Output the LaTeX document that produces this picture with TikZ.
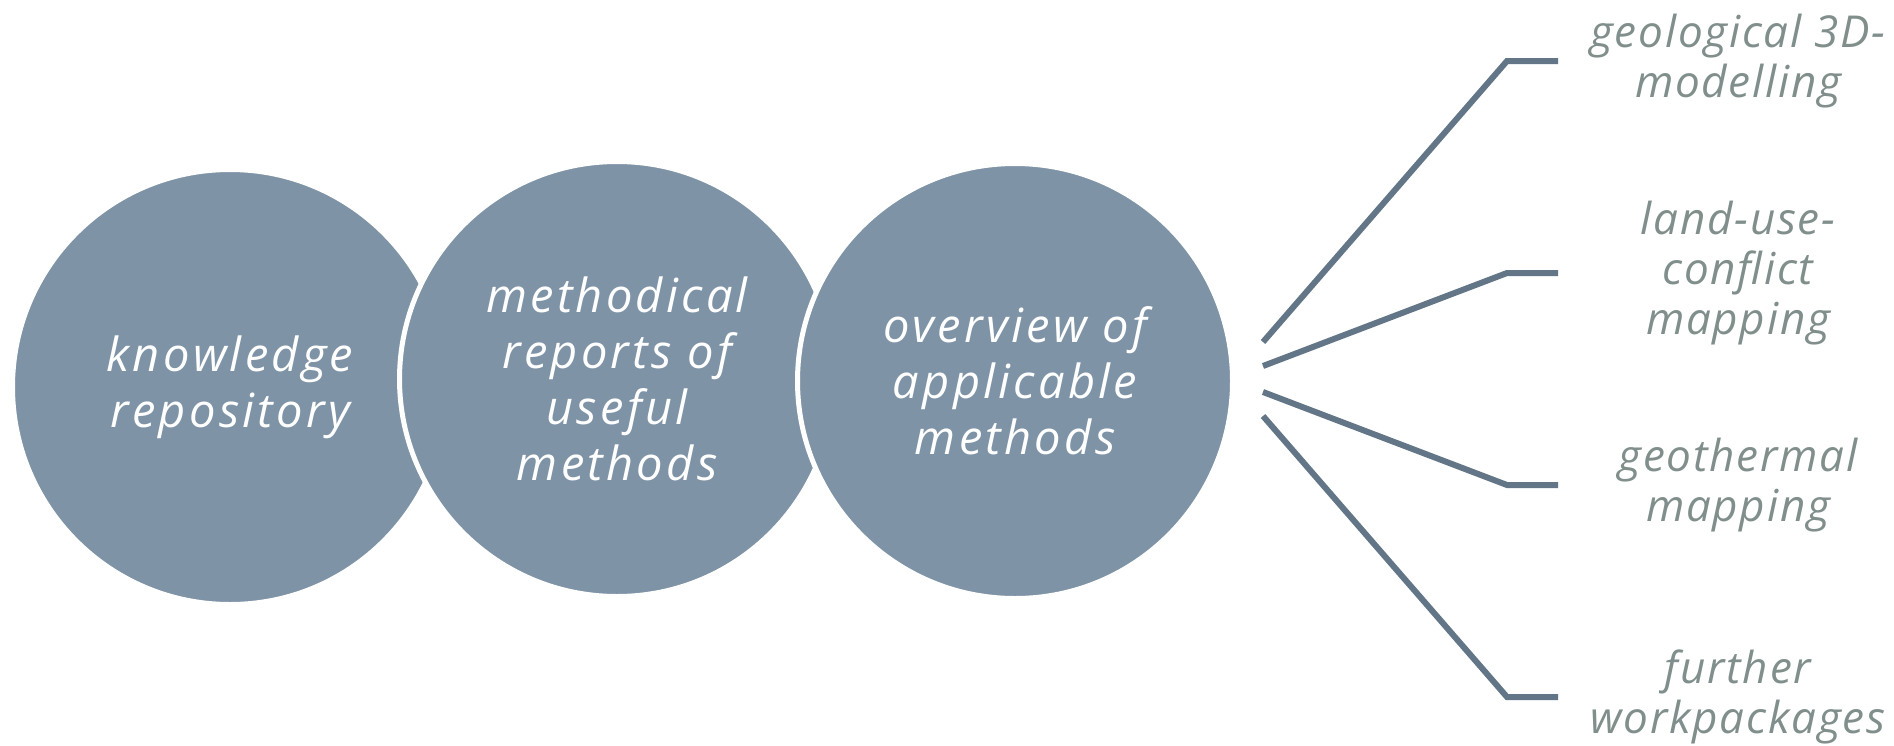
\documentclass[tikz,border=0pt]{standalone}
\usepackage{fontspec}
\setmainfont{Open Sans}
\newfontfamily\bubblefont[LetterSpace=7]{Open Sans}
\newfontfamily\branchfont[LetterSpace=4]{Open Sans}
\definecolor{bubblefill}{RGB}{126,147,166}
\definecolor{linecolor}{RGB}{99,118,135}
\definecolor{labelgray}{RGB}{128,142,140}
\begin{document}
\begin{tikzpicture}[x=1pt,y=-1pt,
  bubble/.style={circle, fill=bubblefill, draw=white, line width=5pt, minimum size=435pt, inner sep=0pt},
  bubbletext/.style={text=white, font=\bubblefont\fontsize{47}{56}\selectfont\itshape, align=center, inner sep=0pt},
  labeltext/.style={text=labelgray, font=\branchfont\fontsize{44}{50}\selectfont\itshape, align=center, inner sep=0pt},
  branch/.style={draw=linecolor, line width=6pt}]
\useasboundingbox (0,0) rectangle (1894,745);
\node[bubble] (c1) at (230,387) {};
\node[bubble] (c2) at (617,379) {};
\node[bubble] (c3) at (1015,381) {};
\node[bubbletext] (t1) at (c1) {knowledge\\repository};
\node[bubbletext] (t2) at (c2) {methodical\\reports of\\useful\\methods};
\node[bubbletext] (t3) at (c3) {overview of\\applicable\\methods};
\coordinate (s1) at (1263,342);
\coordinate (s2) at (1263,366);
\coordinate (s3) at (1263,392);
\coordinate (s4) at (1263,416);
\coordinate (e1) at (1507,61);
\coordinate (e2) at (1507,273);
\coordinate (e3) at (1507,485);
\coordinate (e4) at (1507,697);
\coordinate (h1) at (1558,61);
\coordinate (h2) at (1558,273);
\coordinate (h3) at (1558,485);
\coordinate (h4) at (1558,697);
\node[labeltext] (l1) at (1738,61) {geological 3D-\\modelling};
\node[labeltext] (l2) at (1738,273) {land-use-\\conflict\\mapping};
\node[labeltext] (l3) at (1738,485) {geothermal\\mapping};
\node[labeltext] (l4) at (1738,697) {further\\workpackages};
\draw[branch] (s1) -- (e1) -- (h1);
\draw[branch] (s2) -- (e2) -- (h2);
\draw[branch] (s3) -- (e3) -- (h3);
\draw[branch] (s4) -- (e4) -- (h4);
\end{tikzpicture}
\end{document}
